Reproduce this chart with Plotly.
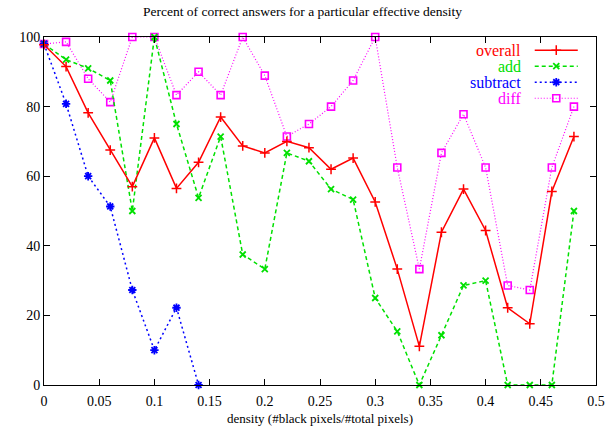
import plotly.graph_objects as go

density = [0.00, 0.02, 0.04, 0.06, 0.08, 0.10, 0.12, 0.14, 0.16, 0.18, 0.20, 0.22, 0.24,
           0.26, 0.28, 0.30, 0.32, 0.34, 0.36, 0.38, 0.40, 0.42, 0.44, 0.46, 0.48]
overall = [97.8, 91.5, 78.2, 67.5, 57.0, 71.0, 56.5, 64.0, 77.0, 68.7, 66.7, 70.0, 68.2,
           62.0, 65.2, 52.6, 33.3, 11.1, 43.9, 56.3, 44.4, 22.2, 17.6, 55.6, 71.4]
add = [98.0, 93.5, 91.0, 87.5, 50.0, 100.0, 75.0, 53.8, 71.4, 37.5, 33.3, 66.7, 64.3,
       56.3, 53.3, 25.0, 15.4, 0.0, 14.3, 28.6, 30.0, 0.0, 0.0, 0.0, 50.0]
subtract_x = [0.00, 0.02, 0.04, 0.06, 0.08, 0.10, 0.12, 0.14]
subtract = [98.0, 80.8, 60.0, 51.3, 27.3, 10.0, 22.2, 0.0]
diff = [98.0, 98.6, 88.0, 81.3, 100.0, 100.0, 83.3, 90.0, 83.3, 100.0, 88.9, 71.4, 75.0,
        80.0, 87.5, 100.0, 62.5, 33.3, 66.7, 77.8, 62.5, 28.6, 27.3, 62.5, 80.0]

x_ticks = [0, 0.05, 0.1, 0.15, 0.2, 0.25, 0.3, 0.35, 0.4, 0.45, 0.5]
x_tick_labels = ["0", "0.05", "0.1", "0.15", "0.2", "0.25", "0.3", "0.35", "0.4", "0.45", "0.5"]
y_ticks = [0, 20, 40, 60, 80, 100]
y_tick_labels = ["0", "20", "40", "60", "80", "100"]

series_names = ["overall", "add", "subtract", "diff"]

FONT = "Times New Roman, Liberation Serif, DejaVu Serif, serif"

styles = {
    "overall": dict(color="#ff0000", dash="solid", width=1.5, symbol="cross-thin-open", msize=7, mlw=1.5),
    "add": dict(color="#00e000", dash="4px,3px", width=1.5, symbol="x-thin-open", msize=6, mlw=1.8),
    "subtract": dict(color="#0000ff", dash="2px,3px", width=1.5, symbol="asterisk-open", msize=7, mlw=1.8),
    "diff": dict(color="#ff00ff", dash="1px,2px", width=1.2, symbol="square-open", msize=7, mlw=1.6),
}
data = {
    "overall": (density, overall),
    "add": (density, add),
    "subtract": (subtract_x, subtract),
    "diff": (density, diff),
}

fig = go.Figure()
draw_order = ["diff", "add", "subtract", "overall"]
for name in draw_order:
    s = styles[name]
    xs, ys = data[name]
    fig.add_trace(go.Scatter(
        x=xs, y=ys, mode="lines+markers", name=name, showlegend=False,
        line=dict(color=s["color"], dash=s["dash"], width=s["width"]),
        marker=dict(symbol=s["symbol"], size=s["msize"], color=s["color"],
                    line=dict(color=s["color"], width=s["mlw"])),
        cliponaxis=False,
    ))

# custom gnuplot-style key (text right-aligned, sample to the right)
key_top = 0.962
key_step = 0.046
for i, name in enumerate(series_names):
    s = styles[name]
    yk = key_top - i * key_step
    fig.add_annotation(x=0.868, y=yk, xref="paper", yref="paper", text=name,
                       showarrow=False, xanchor="right", yanchor="middle",
                       font=dict(family=FONT, size=16, color=s["color"]))
    fig.add_trace(go.Scatter(
        x=[0.889, 0.967], y=[yk, yk], xaxis="x2", yaxis="y2", mode="lines",
        line=dict(color=s["color"], dash=s["dash"], width=s["width"]),
        showlegend=False, hoverinfo="skip"))
    fig.add_trace(go.Scatter(
        x=[0.928], y=[yk], xaxis="x2", yaxis="y2", mode="markers",
        marker=dict(symbol=s["symbol"], size=s["msize"], color=s["color"],
                    line=dict(color=s["color"], width=s["mlw"])),
        showlegend=False, hoverinfo="skip"))

axis_common = dict(showgrid=False, zeroline=False, showline=True, linecolor="black",
                   linewidth=1, mirror="allticks", ticks="inside", ticklen=6,
                   tickcolor="black", automargin=False,
                   tickfont=dict(family=FONT, size=14, color="black"))

fig.update_layout(
    width=605, height=439,
    margin=dict(l=44, r=9, t=37, b=54),
    paper_bgcolor="white", plot_bgcolor="white",
    font=dict(family=FONT),
    title=dict(text="Percent of correct answers for a particular effective density",
               x=0.5, xanchor="center", y=0.975, yanchor="middle",
               font=dict(family=FONT, size=13.5, color="black")),
    xaxis=dict(range=[0, 0.5], tickvals=x_ticks, ticktext=x_tick_labels,
               ticklabelstandoff=3,
               title=dict(text="density (#black pixels/#total pixels)",
                          font=dict(family=FONT, size=13, color="black"), standoff=6),
               **axis_common),
    yaxis=dict(range=[0, 100], tickvals=y_ticks, ticktext=y_tick_labels, **axis_common),
    xaxis2=dict(range=[0, 1], overlaying="x", visible=False, domain=[0, 1]),
    yaxis2=dict(range=[0, 1], overlaying="y", visible=False),
)

fig.write_html("out.html")
